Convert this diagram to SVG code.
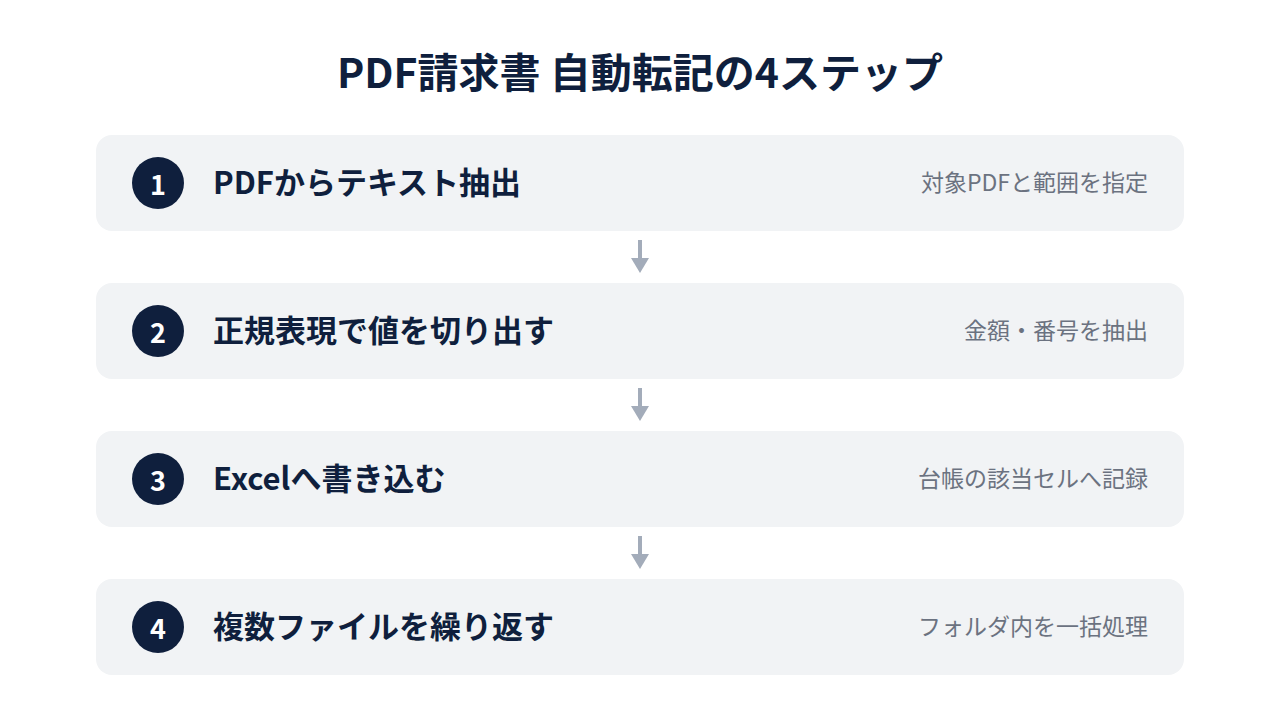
<svg xmlns="http://www.w3.org/2000/svg" width="1280" height="720" viewBox="0 0 1280 720">
  <style>
    .title { font-family: "Noto Sans CJK JP", "Noto Sans", sans-serif; font-weight: 700; font-size: 41px; fill: #0f1f3d; }
    .card { fill: #f1f3f5; }
    .badge { fill: #0f1f3d; }
    .num { font-family: "Noto Sans CJK JP", "Noto Sans", sans-serif; font-weight: 700; font-size: 27px; fill: #ffffff; text-anchor: middle; }
    .head { font-family: "Noto Sans CJK JP", "Noto Sans", sans-serif; font-weight: 700; font-size: 31px; fill: #0f1f3d; }
    .sub { font-family: "Noto Sans CJK JP", "Noto Sans", sans-serif; font-weight: 400; font-size: 23px; fill: #6b7280; text-anchor: end; }
    .conn { stroke: #a3acba; stroke-width: 4; fill: none; marker-end: url(#arrow); }
  </style>
  <defs>
    <marker id="arrow" markerUnits="userSpaceOnUse" markerWidth="15" markerHeight="18" refX="0" refY="9" orient="auto" viewBox="0 0 15 18">
      <path d="M0,0 L15,9 L0,18 Z" fill="#a3acba"/>
    </marker>
  </defs>
  <rect width="1280" height="720" fill="#ffffff"/>
  <text class="title" x="640" y="88" text-anchor="middle">PDF請求書 自動転記の4ステップ</text>

  <g id="step1">
    <rect class="card" x="96" y="135" width="1088" height="96" rx="16"/>
    <circle class="badge" cx="158" cy="183" r="26"/>
    <text class="num" x="158" y="195">1</text>
    <text class="head" x="213" y="194">PDFからテキスト抽出</text>
    <text class="sub" x="1148" y="191">対象PDFと範囲を指定</text>
  </g>
  <g id="step2">
    <rect class="card" x="96" y="283" width="1088" height="96" rx="16"/>
    <circle class="badge" cx="158" cy="331" r="26"/>
    <text class="num" x="158" y="343">2</text>
    <text class="head" x="213" y="342">正規表現で値を切り出す</text>
    <text class="sub" x="1148" y="339">金額・番号を抽出</text>
  </g>
  <g id="step3">
    <rect class="card" x="96" y="431" width="1088" height="96" rx="16"/>
    <circle class="badge" cx="158" cy="479" r="26"/>
    <text class="num" x="158" y="491">3</text>
    <text class="head" x="213" y="490">Excelへ書き込む</text>
    <text class="sub" x="1148" y="487">台帳の該当セルへ記録</text>
  </g>
  <g id="step4">
    <rect class="card" x="96" y="579" width="1088" height="96" rx="16"/>
    <circle class="badge" cx="158" cy="627" r="26"/>
    <text class="num" x="158" y="639">4</text>
    <text class="head" x="213" y="638">複数ファイルを繰り返す</text>
    <text class="sub" x="1148" y="635">フォルダ内を一括処理</text>
  </g>

  <g id="connectors">
    <line class="conn" x1="640" y1="240" x2="640" y2="258"/>
    <line class="conn" x1="640" y1="388" x2="640" y2="406"/>
    <line class="conn" x1="640" y1="536" x2="640" y2="554"/>
  </g>
</svg>
